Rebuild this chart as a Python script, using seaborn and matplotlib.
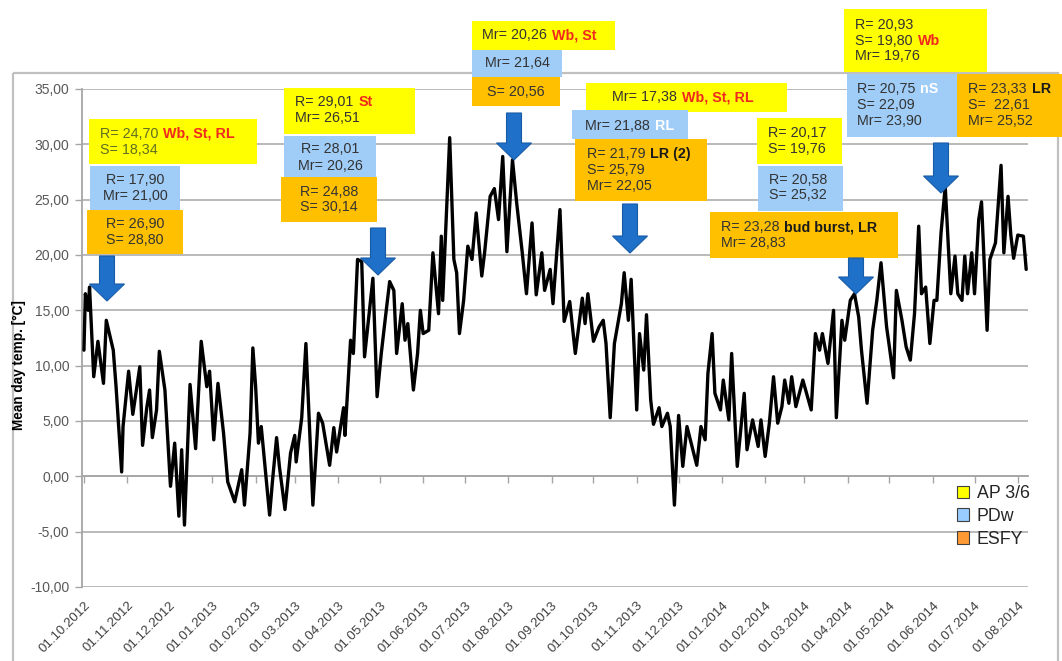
import pandas as pd
import seaborn as sns
import matplotlib.pyplot as plt
import matplotlib.dates as mdates
from matplotlib.patches import Rectangle, FancyArrow, Patch
from matplotlib.transforms import Affine2D
from matplotlib.ticker import FuncFormatter

# Data: daily mean temperature (days after 01.10.2012)
start_date = "2012-10-01"
day_offsets = [0, 1, 3, 4, 7, 10, 14, 16, 21, 23, 27, 28, 32, 35, 40, 42, 45, 47, 49, 52,
               54, 58, 62, 65, 68, 70, 72, 76, 80, 84, 88, 90, 93, 96, 100, 103, 108, 113, 115, 119,
               121, 123, 125, 127, 133, 135, 138, 140, 144, 148, 151, 152, 156, 159, 164, 168, 171, 176, 179, 181,
               186, 187, 191, 193, 196, 199, 201, 207, 210, 213, 216, 219, 222, 224, 228, 230, 232, 236, 239, 241,
               243, 247, 250, 254, 256, 257, 262, 265, 267, 269, 272, 275, 278, 281, 285, 287, 291, 294, 297, 300,
               303, 307, 310, 314, 317, 321, 324, 328, 330, 334, 336, 341, 344, 348, 352, 357, 359, 361, 365, 369,
               372, 374, 377, 380, 385, 387, 390, 392, 396, 398, 401, 403, 406, 408, 412, 414, 418, 420, 423, 426,
               429, 432, 435, 439, 442, 445, 447, 450, 452, 456, 458, 462, 464, 468, 473, 475, 479, 483, 485, 488,
               491, 494, 497, 500, 502, 505, 507, 510, 515, 521, 524, 527, 529, 533, 537, 539, 543, 545, 549, 552,
               555, 557, 561, 565, 568, 571, 575, 577, 580, 582, 586, 589, 592, 595, 598, 600, 603, 606, 609, 611,
               614, 617, 621, 624, 626, 629, 631, 633, 636, 638, 641, 643, 647, 649, 653, 657, 659, 662, 664, 666,
               669, 673, 675]
temps = [11.4, 16.5, 15.0, 17.1, 9.0, 12.2, 8.4, 14.1, 11.4, 8.1, 0.4, 4.5, 9.5, 5.6, 9.9, 2.8, 6.2, 7.8, 3.5, 6.0,
         11.3, 7.8, -0.9, 3.0, -3.6, 2.4, -4.4, 8.3, 2.5, 12.2, 8.1, 9.5, 3.3, 8.4, 3.9, -0.5, -2.3, 0.6, -2.6, 3.9,
         11.6, 8.1, 3.0, 4.5, -3.5, -0.5, 3.5, 0.9, -3.0, 2.1, 3.7, 1.3, 5.3, 12.0, -2.6, 5.7, 4.8, 1.0, 4.4, 2.2,
         6.2, 3.7, 12.3, 11.1, 19.6, 19.4, 10.8, 17.9, 7.2, 11.1, 14.4, 17.6, 16.8, 11.1, 15.6, 12.3, 13.8, 7.8, 11.1, 15.0,
         12.9, 13.2, 20.2, 14.7, 21.7, 15.9, 30.6, 19.6, 18.4, 12.9, 15.9, 20.8, 19.6, 23.8, 18.1, 20.2, 25.3, 26.0, 23.2, 28.9,
         20.3, 28.6, 24.7, 20.2, 16.5, 22.9, 16.4, 20.2, 16.8, 18.7, 15.6, 24.1, 14.0, 15.8, 11.1, 16.1, 13.8, 16.5, 12.2, 13.5,
         14.1, 12.0, 5.3, 12.0, 15.6, 18.4, 14.1, 17.8, 6.0, 12.9, 9.6, 14.6, 6.9, 4.7, 6.2, 4.5, 5.7, 4.5, -2.6, 5.5,
         0.9, 4.5, 3.0, 1.0, 4.5, 3.3, 9.3, 12.9, 7.5, 6.0, 8.7, 5.1, 11.1, 0.9, 7.5, 2.4, 5.1, 2.7, 5.1, 1.8,
         4.8, 9.0, 4.8, 6.3, 8.7, 6.6, 9.0, 6.3, 8.7, 6.0, 12.9, 11.4, 12.9, 10.2, 15.0, 5.3, 14.1, 12.3, 15.9, 16.5,
         14.4, 11.4, 6.6, 13.2, 15.9, 19.3, 13.5, 11.7, 8.9, 16.8, 14.1, 11.7, 10.5, 14.7, 22.6, 16.5, 17.1, 12.0, 15.9, 15.9,
         22.0, 26.2, 16.5, 19.9, 16.5, 15.9, 19.9, 16.5, 20.2, 16.5, 23.2, 24.8, 13.2, 19.6, 21.1, 28.1, 20.2, 25.3, 21.8, 19.7,
         21.8, 21.7, 18.7]
assert len(day_offsets) == len(temps)

y_ticks = [-10, -5, 0, 5, 10, 15, 20, 25, 30, 35]
legend_labels = ["AP 3/6", "PDw", "ESFY"]
legend_colors = ["#ffff00", "#99ccff", "#ff9933"]

df = pd.DataFrame({
    "date": pd.Timestamp(start_date) + pd.to_timedelta(day_offsets, unit="D"),
    "temp": temps,
})
month_ticks = pd.date_range("2012-10-01", "2014-08-01", freq="MS")

# Style
sns.set_theme(style="white")
plt.rcParams["font.family"] = ["Liberation Sans", "DejaVu Sans"]

W, H = 1062, 661
fig = plt.figure(figsize=(W / 100, H / 100), dpi=100)
px = Affine2D().scale(1 / W, -1 / H).translate(0, 1) + fig.transFigure

ax = fig.add_axes([82 / W, 1 - 587 / H, (1028 - 82) / W, (587 - 89) / H])
sns.lineplot(data=df, x="date", y="temp", color="black", linewidth=2.4, ax=ax, zorder=3)

t0 = pd.Timestamp(start_date)
ax.set_xlim(t0 - pd.Timedelta(days=1.4), t0 + pd.Timedelta(days=676.3))
ax.set_ylim(-10, 35)
ax.set_yticks(y_ticks)
ax.yaxis.set_major_formatter(FuncFormatter(lambda v, p: f"{v:.2f}".replace(".", ",")))
ax.yaxis.grid(True, color="#b4b4b4", linewidth=1.3)
ax.xaxis.grid(False)
ax.set_xlabel("")
ax.set_ylabel("")
ax.tick_params(axis="y", left=True, length=5, width=1, color="#a6a6a6",
               labelsize=10, labelcolor="#595959", pad=4)
for s in ["top", "right"]:
    ax.spines[s].set_visible(False)
ax.spines["left"].set_color("#a6a6a6")
ax.spines["left"].set_linewidth(1.3)
ax.spines["bottom"].set_position(("data", 0))
ax.spines["bottom"].set_color("#a6a6a6")
ax.spines["bottom"].set_linewidth(1.3)
ax.set_xticks(month_ticks)
ax.tick_params(axis="x", bottom=True, length=5, width=1, color="#a6a6a6", labelbottom=False)

sec = ax.secondary_xaxis(0)
sec.set_xticks(mdates.date2num(month_ticks))
sec.xaxis.set_major_formatter(mdates.DateFormatter("%d.%m.%Y"))
sec.tick_params(length=0, pad=9, labelsize=9.5, labelcolor="#404040")
sec.spines["bottom"].set_visible(False)
for lab in sec.get_xticklabels():
    lab.set_rotation(45)
    lab.set_ha("right")
    lab.set_rotation_mode("anchor")

fig.text(19 / W, 1 - 365 / H, "Mean day temp. [°C]", rotation=90, fontsize=9.8,
         fontweight="bold", ha="center", va="center", color="black")

# outer chart border
fig.add_artist(Rectangle((13, 73), 1045, 600, transform=px, fill=False,
                         edgecolor="#c0c0c0", linewidth=1.6, zorder=-1))

YEL, BLU, GLD = "#ffff00", "#9fcdf8", "#ffc000"
RED, DARK, OLIVE = "#f0281e", "#333333", "#5f6e22"
FS = 10.3
renderer = fig.canvas.get_renderer()


def box(x0, y0, x1, y1, color):
    fig.add_artist(Rectangle((x0, y0), x1 - x0, y1 - y0, transform=px,
                             facecolor=color, edgecolor="none", zorder=5))


def line(x, y, segments, center=False):
    if center:
        fig.text(x, y, segments, transform=px, fontsize=FS, color=DARK,
                 ha="center", va="center", zorder=7)
        return
    cur = x
    for text, color, weight in segments:
        t = fig.text(cur, y, text, transform=px, fontsize=FS, color=color,
                     fontweight=weight, ha="left", va="center", zorder=7)
        cur += t.get_window_extent(renderer).width + 5


def arrow(xc, ytop, ybot):
    fig.add_artist(FancyArrow(xc, ytop, 0, ybot - ytop, width=15, head_width=35,
                              head_length=17, length_includes_head=True, transform=px,
                              facecolor="#1f70c8", edgecolor="#185ba6", linewidth=0.8, zorder=6))


# group 1 (Oct 2012)
box(89, 119, 257, 164, YEL)
line(100, 134, [("R= 24,70", OLIVE, "normal"), ("Wb, St, RL", RED, "bold")])
line(100, 150, [("S= 18,34", OLIVE, "normal")])
box(90, 166, 180, 210, BLU)
line(135, 180, "R= 17,90", center=True)
line(135, 196, "Mr= 21,00", center=True)
box(87, 210, 183, 254, GLD)
line(135, 224, "R= 26,90", center=True)
line(135, 240, "S= 28,80", center=True)
arrow(107, 256, 301)

# group 2 (Apr 2013)
box(284, 88, 415, 134, YEL)
line(295, 102, [("R= 29,01", DARK, "normal"), ("St", RED, "bold")])
line(295, 118, [("Mr= 26,51", DARK, "normal")])
box(284, 136, 376, 177, BLU)
line(330, 149, "R= 28,01", center=True)
line(330, 166, "Mr= 20,26", center=True)
box(281, 177, 377, 222, GLD)
line(329, 192, "R= 24,88", center=True)
line(329, 207, "S= 30,14", center=True)
arrow(378, 228, 275)

# group 3 (Jul 2013)
box(472, 21, 615, 50, YEL)
line(482, 35, [("Mr= 20,26", DARK, "normal"), ("Wb, St", RED, "bold")])
box(472, 50, 562, 77, BLU)
line(517, 63, "Mr= 21,64", center=True)
box(472, 77, 560, 106, GLD)
line(516, 92, "S= 20,56", center=True)
arrow(514, 113, 160)

# group 4 (Nov 2013)
box(586, 83, 787, 112, YEL)
line(612, 97, [("Mr= 17,38", DARK, "normal"), ("Wb, St, RL", RED, "bold")])
box(572, 110, 688, 139, BLU)
line(585, 126, [("Mr= 21,88", DARK, "normal"), ("RL", "white", "bold")])
box(575, 139, 707, 201, GLD)
line(587, 154, [("R= 21,79", DARK, "normal"), ("LR (2)", "#1a1a1a", "bold")])
line(587, 170, [("S= 25,79", DARK, "normal")])
line(587, 186, [("Mr= 22,05", DARK, "normal")])
arrow(630, 204, 253)

# group 5 (Apr 2014)
box(757, 118, 842, 164, YEL)
line(768, 133, [("R= 20,17", DARK, "normal")])
line(768, 149, [("S= 19,76", DARK, "normal")])
box(758, 166, 843, 211, BLU)
line(769, 180, [("R= 20,58", DARK, "normal")])
line(769, 195, [("S= 25,32", DARK, "normal")])
box(710, 212, 898, 258, GLD)
line(721, 227, [("R= 23,28", DARK, "normal"), ("bud burst, LR", "#1a1a1a", "bold")])
line(721, 243, [("Mr= 28,83", DARK, "normal")])
arrow(856, 258, 294)

# group 6 (Jun 2014)
box(844, 9, 987, 72, YEL)
line(855, 25, [("R= 20,93", DARK, "normal")])
line(855, 41, [("S= 19,80", DARK, "normal"), ("Wb", RED, "bold")])
line(855, 56, [("Mr= 19,76", DARK, "normal")])
box(847, 74, 957, 137, BLU)
line(857, 89, [("R= 20,75", DARK, "normal"), ("nS", "white", "bold")])
line(857, 105, [("S= 22,09", DARK, "normal")])
line(857, 121, [("Mr= 23,90", DARK, "normal")])
box(957, 74, 1062, 137, GLD)
line(968, 89, [("R= 23,33", DARK, "normal"), ("LR", "#1a1a1a", "bold")])
line(968, 105, [("S=  22,61", DARK, "normal")])
line(968, 121, [("Mr= 25,52", DARK, "normal")])
arrow(941, 143, 193)

handles = [Patch(facecolor=c, edgecolor="#404040", linewidth=0.8) for c in legend_colors]
leg = fig.legend(handles, legend_labels, loc="upper left", bbox_to_anchor=(957 / W, 1 - 485 / H),
                 frameon=False, fontsize=12.8, handlelength=0.7, handleheight=0.7,
                 handletextpad=0.4, labelspacing=0.33, borderpad=0, borderaxespad=0)
for t in leg.get_texts():
    t.set_color("#262626")

fig.savefig("out.png", dpi=100)
